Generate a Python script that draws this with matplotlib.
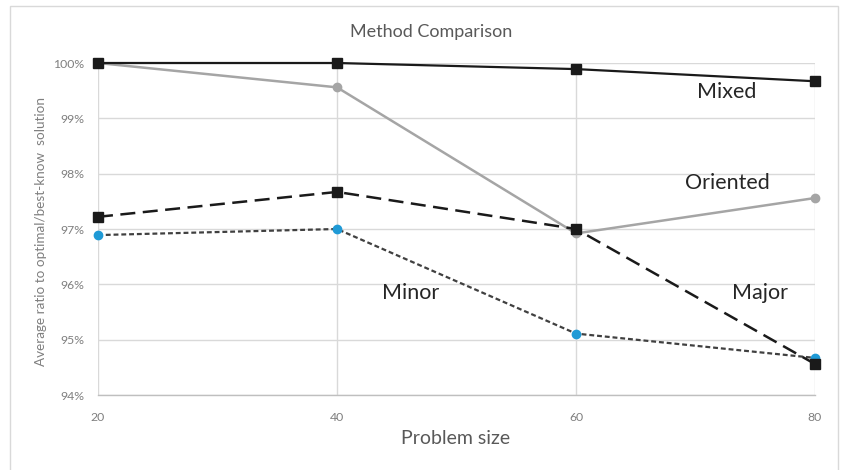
import matplotlib
matplotlib.use("Agg")
import matplotlib.pyplot as plt
from matplotlib.patches import Rectangle
from matplotlib.ticker import FuncFormatter

plt.rcParams['font.family'] = ['Lato', 'DejaVu Sans']

# Data
sizes = [20, 40, 60, 80]
mixed = [100.0, 100.0, 99.89, 99.67]
oriented = [100.0, 99.56, 96.92, 97.56]
major = [97.22, 97.67, 97.00, 94.56]
minor = [96.89, 97.00, 95.11, 94.67]
y_ticks = [94, 95, 96, 97, 98, 99, 100]

W, H = 842, 470
fig = plt.figure(figsize=(W / 100, H / 100), dpi=100)
fig.patch.set_facecolor('white')

# Chart-area frame
fig.patches.append(Rectangle((10 / W, -0.05), 828 / W, (H - 6) / H + 0.05,
                             transform=fig.transFigure, fill=False,
                             edgecolor='#d9d9d9', linewidth=1.0))

ax = fig.add_axes([98 / W, 75 / H, 717 / W, 332 / H])
ax.set_xlim(20, 80)
ax.set_ylim(94, 100)
ax.set_xticks(sizes)
ax.set_yticks(y_ticks)
ax.yaxis.set_major_formatter(FuncFormatter(lambda v, p: f"{v:.0f}%"))
ax.grid(True, color='#d9d9d9', linewidth=1.0)
ax.set_axisbelow(True)
for s in ['top', 'right', 'left']:
    ax.spines[s].set_visible(False)
ax.spines['bottom'].set_color('#bfbfbf')
ax.spines['bottom'].set_linewidth(1.0)
ax.tick_params(length=0, labelsize=8.8, labelcolor='#7f7f7f')
ax.tick_params(axis='y', pad=10)
ax.tick_params(axis='x', pad=12)

ax.plot(sizes, mixed, color='#1a1a1a', lw=1.6, marker='s', ms=7,
        clip_on=False, zorder=5)
ax.plot(sizes, oriented, color='#a5a5a5', lw=1.8, marker='o', ms=6,
        clip_on=False, zorder=4)
ax.plot(sizes, major, color='#1a1a1a', lw=1.8, marker='s', ms=7,
        dashes=(6, 3), clip_on=False, zorder=6)
ax.plot(sizes, minor, color='#404040', lw=1.6, marker='o', ms=6,
        markerfacecolor='#1f9ad6', markeredgecolor='#1f9ad6',
        dashes=(2.2, 1.3), clip_on=False, zorder=5)

# Series labels
lab = dict(fontsize=15.5, color='#262626', ha='center', va='center')
ax.text(72.6, 99.48, 'Mixed', **lab)
ax.text(72.7, 97.83, 'Oriented', **lab)
ax.text(75.4, 95.84, 'Major', **lab)
ax.text(46.2, 95.84, 'Minor', **lab)

fig.text(431 / W, 1 - 32 / H, 'Method Comparison', fontsize=13,
         color='#595959', ha='center', va='center')
fig.text(456 / W, 1 - 439 / H, 'Problem size', fontsize=14,
         color='#595959', ha='center', va='center')
fig.text(41 / W, 1 - 231 / H, 'Average ratio to optimal/best-know  solution',
         fontsize=9.7, color='#7f7f7f', ha='center', va='center', rotation=90)

fig.savefig('out.png', dpi=100, facecolor='white')
